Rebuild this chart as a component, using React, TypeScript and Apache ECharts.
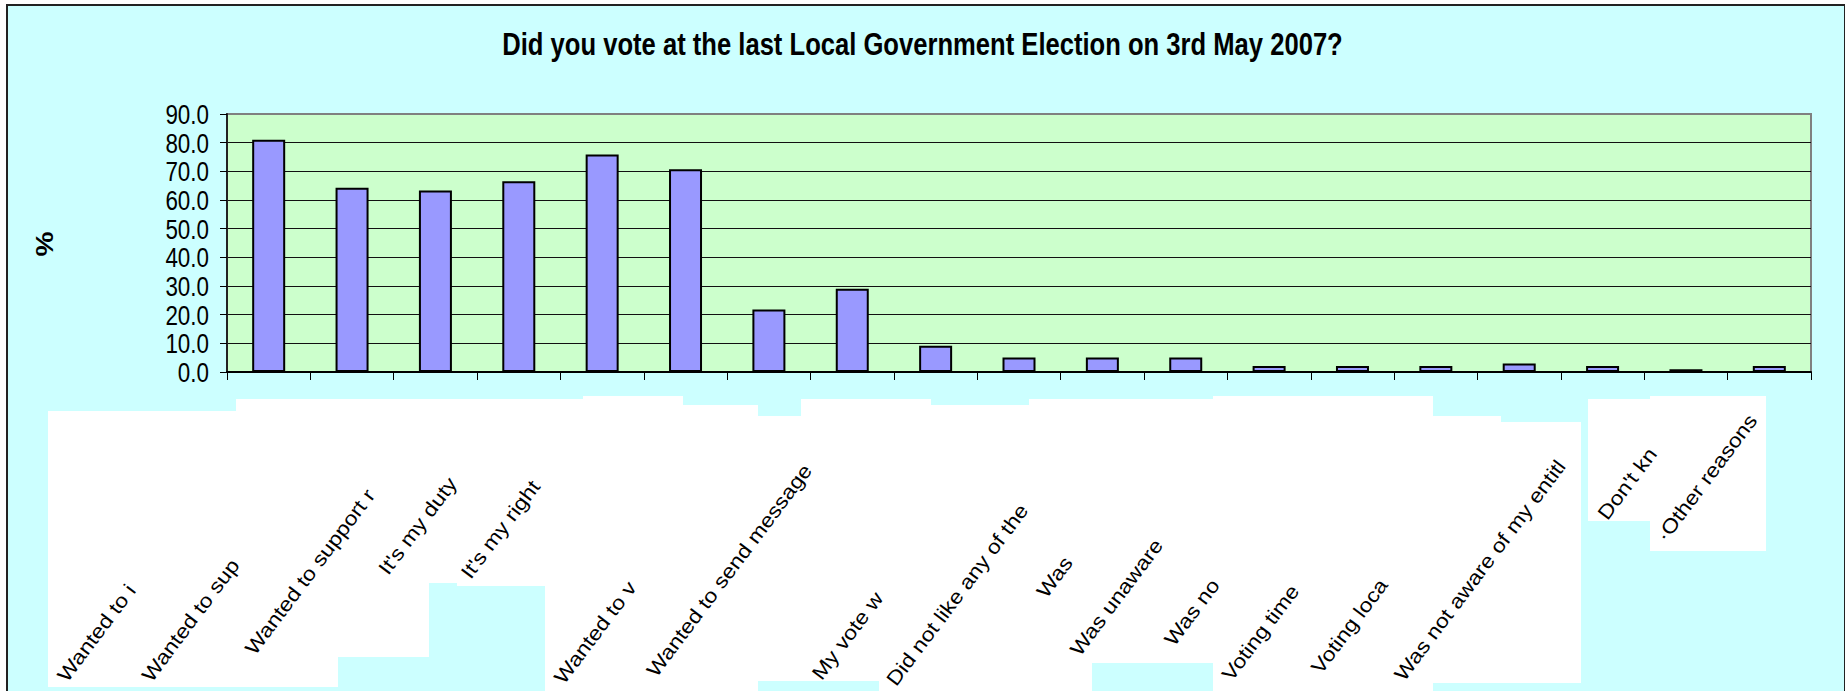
import React, { useEffect, useRef } from "react";
import * as echarts from "echarts";

// ---- data ----
const categories = [
  "Wanted to i",
  "Wanted to sup",
  "Wanted to support r",
  "It's my duty",
  "It's my right",
  "Wanted to v",
  "Wanted to send message",
  "My vote w",
  "Did not like any of the",
  "Was",
  "Was unaware",
  "Was no",
  "Voting time",
  "Voting loca",
  "",
  "",
  "Was not aware of my entitl",
  "Don't kn",
  "·Other reasons",
];
const values = [81.0, 64.3, 63.3, 66.5, 75.9, 70.7, 21.8, 29.0, 9.2, 5.1, 5.1, 5.1, 2.1, 2.1, 2.1, 3.0, 2.1, 1.0, 2.1];
const yTicks = [0, 10, 20, 30, 40, 50, 60, 70, 80, 90];
const titleText = "Did you vote at the last Local Government Election on 3rd May 2007?";
const yName = "%";

// ---- layout (pixels) ----
// offset of each category label's start from its category centre, and the y of its start
const labelDx = [-199, -198, -178, -128, -129, -119, -110, -28, -37, 30, -20, -9, -35, -29, 0, 0, -196, -76, -101];
const labelY = [685, 685, 658, 578, 582, 687, 680, 683, 689, 601, 659, 649, 684, 677, 0, 0, 684, 523, 545];
// white label boxes [x0, x1, y0, y1]
const whiteBoxes = [
  [48, 236, 411, 687],
  [236, 338, 399, 687],
  [338, 429, 399, 657],
  [429, 457, 399, 583],
  [457, 545, 399, 586],
  [545, 583, 399, 691],
  [583, 683, 396, 691],
  [683, 758, 405, 691],
  [758, 801, 416, 681],
  [801, 879, 399, 681],
  [879, 931, 399, 691],
  [931, 1029, 405, 691],
  [1029, 1092, 399, 691],
  [1092, 1213, 399, 663],
  [1213, 1433, 396, 691],
  [1433, 1501, 416, 683],
  [1501, 1581, 422, 683],
  [1588, 1650, 399, 521],
  [1650, 1766, 396, 551],
];

const SANS = "'Liberation Sans', Arial, sans-serif";

export default function App() {
  const ref = useRef<HTMLDivElement>(null);

  useEffect(() => {
    if (!ref.current) return;
    const chart = echarts.init(ref.current, undefined, { renderer: "svg" });
    chart.setOption({
      animation: false,
      grid: {
        left: 227,
        right: 34,
        top: 114,
        bottom: 319,
        show: true,
        backgroundColor: "#CCFFCC",
        borderColor: "#808080",
        borderWidth: 2,
      },
      xAxis: {
        type: "category",
        data: categories,
        axisLine: { show: true, lineStyle: { color: "#000", width: 2 } },
        axisTick: { show: true, interval: 0, length: 8, lineStyle: { color: "#000", width: 1 } },
        axisLabel: { show: false },
      },
      yAxis: {
        type: "value",
        min: yTicks[0],
        max: yTicks[yTicks.length - 1],
        interval: 10,
        axisLine: { show: true, lineStyle: { color: "#222", width: 2 } },
        axisTick: { show: true, length: 7, lineStyle: { color: "#000", width: 1 } },
        axisLabel: { show: false },
        splitLine: { show: true, showMaxLine: false, lineStyle: { color: "#111", width: 1 } },
      },
      series: [
        {
          type: "bar",
          data: values,
          barWidth: 33,
          itemStyle: { color: "#9999FF", borderColor: "#000", borderWidth: 2 },
        },
      ],
    });

    const graphics: any[] = [];
    // title (condensed bold)
    graphics.push({
      type: "text",
      silent: true,
      z: 11,
      x: 922.5,
      y: 28,
      scaleX: 0.8,
      style: {
        text: titleText,
        fontSize: 32,
        fontWeight: "bold",
        fontFamily: SANS,
        fill: "#000",
        align: "center",
        verticalAlign: "top",
      },
    });
    // y tick labels (condensed), placed through the value axis
    yTicks.forEach((t) => {
      const py = chart.convertToPixel({ yAxisIndex: 0 }, t) as number;
      graphics.push({
        type: "text",
        silent: true,
        z: 11,
        x: 209,
        y: py,
        scaleX: 0.8,
        style: {
          text: t.toFixed(1),
          fontSize: 28,
          fontFamily: SANS,
          fill: "#000",
          align: "right",
          verticalAlign: "middle",
        },
      });
    });
    whiteBoxes.forEach((b) => {
      graphics.push({
        type: "rect",
        silent: true,
        z: 10,
        shape: { x: b[0], y: b[2], width: b[1] - b[0], height: b[3] - b[2] },
        style: { fill: "#FFFFFF" },
      });
    });
    categories.forEach((c, i) => {
      if (!c) return;
      const cx = chart.convertToPixel({ xAxisIndex: 0 }, c as any) as number;
      graphics.push({
        type: "text",
        silent: true,
        z: 11,
        x: cx + labelDx[i],
        y: labelY[i],
        rotation: (53 * Math.PI) / 180,
        scaleX: 1.15,
        style: {
          text: c,
          fontSize: 20,
          fontFamily: SANS,
          fill: "#000",
          align: "left",
          verticalAlign: "bottom",
        },
      });
    });
    graphics.push({
      type: "text",
      silent: true,
      z: 11,
      x: 45,
      y: 244,
      rotation: Math.PI / 2,
      scaleY: 0.85,
      style: {
        text: yName,
        fontSize: 28,
        fontWeight: "bold",
        fontFamily: SANS,
        fill: "#000",
        align: "center",
        verticalAlign: "middle",
      },
    });
    chart.setOption({ graphic: graphics });

    return () => chart.dispose();
  }, []);

  return (
    <div style={{ position: "fixed", left: 0, top: 0, width: 1845, height: 691, background: "#FFFFFF", overflow: "hidden" }}>
      <div
        style={{
          position: "absolute",
          left: 6,
          top: 4,
          width: 1836,
          height: 720,
          border: "2px solid #222",
          background: "#CCFFFF",
        }}
      />
      <div ref={ref} style={{ position: "absolute", left: 0, top: 0, width: 1845, height: 691 }} />
    </div>
  );
}
